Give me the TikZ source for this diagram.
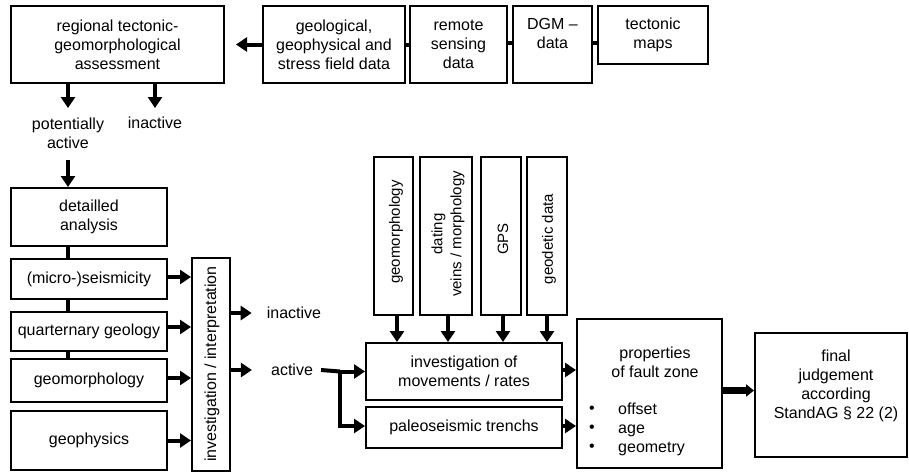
\documentclass[tikz,border=0pt]{standalone}
\usepackage{fontspec}
\setmainfont{Liberation Sans}
\usetikzlibrary{arrows.meta}
\newcommand\myfs{\fontsize{16}{19}\selectfont}
\newcommand\myvfs{\fontsize{15}{19}\selectfont}
\begin{document}
\begin{tikzpicture}[x=1pt,y=-1pt,
  box/.style={draw, line width=2pt, inner sep=0pt, align=center, font=\myfs},
  txt/.style={inner sep=0pt, align=center, font=\myfs},
  vtxt/.style={inner sep=0pt, align=center, font=\myvfs, rotate=90},
  arr/.style={line width=4pt, -{Triangle[width=14pt,length=11pt]}},
  bigarr/.style={line width=6.5pt, -{Triangle[width=12pt,length=8pt]}},
  conn/.style={line width=4pt}]
\useasboundingbox (0,0) rectangle (909,472);
% top row
\node[box, minimum width=213pt, minimum height=77pt] (reg) at (117.5,44.5) {regional tectonic-\\geomorphological\\assessment};
\node[box, minimum width=142pt, minimum height=77pt] (geo) at (334,44.5) {geological,\\geophysical and\\stress field data};
\node[box, minimum width=97pt, minimum height=77pt] (rem) at (458.5,44.5) {remote\\sensing\\data};
\node[box, minimum width=79pt, minimum height=77pt] (dgm) at (552.5,44.5) {};
\node[txt] (dgmt) at (552.5,33) {DGM –\\data};
\node[box, minimum width=110pt, minimum height=58pt] (tec) at (653,35) {tectonic\\maps};
\coordinate (geoend) at (236,44.5);
\draw[arr] (geo.west) -- (geoend);
\draw[conn] (geo.east) -- (rem.west);
\draw[conn] ([yshift=1.5pt]rem.east) -- ([yshift=1.5pt]dgm.west);
\draw[conn] ([yshift=1.5pt]dgm.east) -- ([yshift=1.5pt]dgm.east -| tec.west);
% below regional
\node[txt] (pot) at (68,133) {potentially\\active};
\node[txt] (ina1) at (155,123) {inactive};
\coordinate (pa) at (68,108);
\coordinate (pb) at (155,108);
\draw[arr] (reg.south -| pa) -- (pa);
\draw[arr] (reg.south -| pb) -- (pb);
% left column
\node[box, minimum width=156pt, minimum height=58pt] (det) at (89,217) {detailled\\analysis};
\node[box, minimum width=156pt, minimum height=40pt] (mic) at (89,279) {(micro-)seismicity};
\node[box, minimum width=156pt, minimum height=39pt] (qua) at (89,331.5) {quarternary geology};
\node[box, minimum width=156pt, minimum height=43pt] (gmo) at (89,380.5) {geomorphology};
\node[box, minimum width=156pt, minimum height=59pt] (gph) at (89,440.5) {geophysics};
\draw[arr] ([yshift=-11pt]pot.south) -- (pot.south |- det.north);
\draw[conn] (pot.south |- det.south) -- (pot.south |- mic.north);
\draw[conn] (pot.south |- mic.south) -- (pot.south |- qua.north);
\draw[conn] (pot.south |- qua.south) -- (pot.south |- gmo.north);
% investigation / interpretation
\node[box, minimum width=38pt, minimum height=213pt] (inv) at (211,364.5) {};
\node[txt, rotate=90] (invt) at (212,364) {investigation / interpretation};
\draw[arr] ([yshift=2pt]mic.east) -- ([yshift=2pt]mic.east -| inv.west);
\draw[arr] ([yshift=4.5pt]qua.east) -- ([yshift=4.5pt]qua.east -| inv.west);
\draw[arr] ([yshift=2.5pt]gmo.east) -- ([yshift=2.5pt]gmo.east -| inv.west);
\draw[arr] (gph.east) -- (gph.east -| inv.west);
\node[txt] (ina2) at (294,313) {inactive};
\node[txt] (act) at (292,370) {active};
\draw[arr, shorten >=15pt] (inv.east |- ina2) -- (ina2.west);
\draw[arr, shorten >=19pt] (inv.east |- act) -- (act.west);
% top vertical boxes
\node[box, minimum width=39pt, minimum height=158pt] (tg) at (393.5,236) {};
\node[box, minimum width=52pt, minimum height=158pt] (td) at (446,236) {};
\node[box, minimum width=40pt, minimum height=158pt] (tgps) at (501,236) {};
\node[box, minimum width=40pt, minimum height=158pt] (tgd) at (547,236) {};
\node[vtxt] (tgt) at (396,232) {geomorphology};
\node[vtxt] (tdt) at (448,234) {dating\\veins / morphology};
\node[vtxt] (tgpst) at (503,239) {GPS};
\node[vtxt] (tgdt) at (549,239) {geodetic data};
% movements and trenches
\node[box, minimum width=196pt, minimum height=57pt] (mov) at (464,371.5) {investigation of\\movements / rates};
\node[box, minimum width=196pt, minimum height=41pt] (pal) at (464,427.5) {paleoseismic trenchs};
\draw[arr] ([xshift=3.5pt]tg.south) -- ([xshift=3.5pt]tg.south |- mov.north);
\draw[arr] ([xshift=2pt]td.south) -- ([xshift=2pt]td.south |- mov.north);
\draw[arr] ([xshift=2pt]tgps.south) -- ([xshift=2pt]tgps.south |- mov.north);
\draw[arr] (tgd.south) -- (tgd.south |- mov.north);
\coordinate (split) at (340,371.5);
\draw[conn] ([xshift=8pt]act.east) -- (split);
\draw[arr] ([xshift=-2pt]split) -- (mov.west);
\draw[arr, line join=miter] (split) -- ([yshift=1.5pt]split |- pal.west) -- ([yshift=1.5pt]pal.west);
% properties and final
\node[box, minimum width=145pt, minimum height=149pt] (prop) at (649.5,393.5) {};
\node[txt] (propt) at (655,362) {properties\\of fault zone};
\node[txt] (bul) at (592,429) {•\\•\\•};
\node[txt, anchor=west, align=left] (bulw) at (618,429) {offset\\age\\geometry};
\draw[arr] ([yshift=1.5pt]mov.east) -- ([yshift=1.5pt]mov.east -| prop.west);
\draw[arr] ([yshift=1.5pt]pal.east) -- ([yshift=1.5pt]pal.east -| prop.west);
\node[box, minimum width=152pt, minimum height=124pt] (fin) at (831,395) {};
\node[txt] (fint) at (836,386) {final\\judgement\\according\\StandAG § 22 (2)};
\draw[bigarr] ([yshift=3pt]prop.east) -- ([yshift=3pt]prop.east -| fin.west);
\end{tikzpicture}
\end{document}
